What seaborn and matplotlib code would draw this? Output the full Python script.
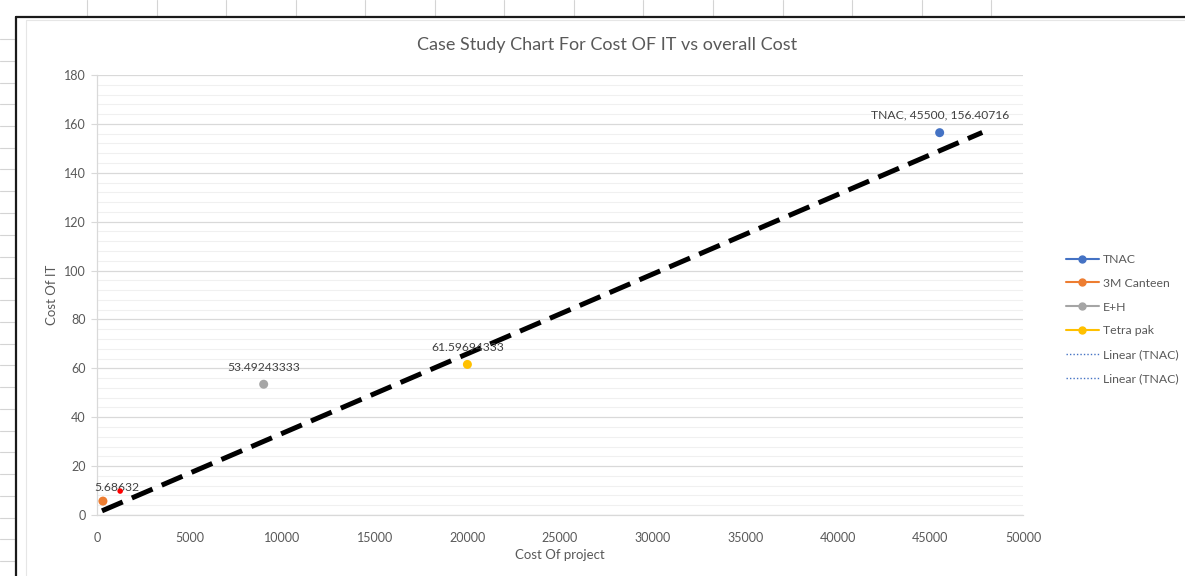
import matplotlib
matplotlib.use("Agg")
import matplotlib.pyplot as plt
import seaborn as sns
import pandas as pd
import numpy as np
from matplotlib.lines import Line2D
from matplotlib.ticker import MultipleLocator

# ---- data ----
series = ["TNAC", "3M Canteen", "E+H", "Tetra pak"]
cost_project = [45500, 320, 9000, 20000]
cost_it = [156.40716, 5.68632, 53.49243333, 61.59694333]
point_labels = ["TNAC, 45500, 156.40716", "5.68632", "53.49243333", "61.59694333"]
extra_x = [1250]
extra_y = [9.8]
trend_x = [270, 47800]
trend_y = [1.7, 156.5]
x_ticks = list(range(0, 50001, 5000))
y_ticks = list(range(0, 181, 20))
legend_labels = ["TNAC", "3M Canteen", "E+H", "Tetra pak", "Linear (TNAC)", "Linear (TNAC)"]

colors = ["#4472C4", "#ED7D31", "#A5A5A5", "#FFC000"]

sns.set_theme(style="white")
plt.rcParams["font.family"] = ["Lato", "DejaVu Sans"]

W, H = 1185, 576
fig = plt.figure(figsize=(W / 100, H / 100), dpi=100)
fig.patch.set_facecolor("white")

# spreadsheet background grid (outside chart)
for i in range(14):
    x = 87 + i * 69.55
    fig.add_artist(Line2D([x / W, x / W], [1, 1 - 17 / H], color="#D4D4D4", lw=0.8))
for j in range(25):
    y = 39 + j * 21.75
    if y > H:
        break
    fig.add_artist(Line2D([0, 16 / W], [1 - y / H, 1 - y / H], color="#D4D4D4", lw=0.8))
# chart border
fig.add_artist(Line2D([16 / W, 16 / W], [0, 1 - 17 / H], color="#1a1a1a", lw=1.6))
fig.add_artist(Line2D([16 / W, 1], [1 - 17 / H, 1 - 17 / H], color="#1a1a1a", lw=1.6))
fig.add_artist(Line2D([26 / W, 26 / W], [0, 1 - 20 / H], color="#E6E6E6", lw=0.8))
fig.add_artist(Line2D([26 / W, 1], [1 - 20 / H, 1 - 20 / H], color="#E6E6E6", lw=0.8))

ax = fig.add_axes([97 / W, 1 - 515 / H, (1023 - 97) / W, (515 - 75) / H])
ax.set_facecolor("white")

df = pd.DataFrame({"x": cost_project, "y": cost_it, "s": series})
trend = pd.DataFrame({"x": trend_x, "y": trend_y})

sns.lineplot(data=trend, x="x", y="y", ax=ax, color="black", lw=3.6,
             dashes=False, legend=False, zorder=3)
ax.lines[-1].set_dashes((4.5, 2.0))
ax.lines[-1].set_dash_capstyle("butt")

sns.scatterplot(data=df, x="x", y="y", hue="s", palette=colors, s=42,
                edgecolor="none", ax=ax, legend=False, zorder=4)
sns.scatterplot(x=extra_x, y=extra_y, color="#FF0000", s=16, edgecolor="none",
                ax=ax, legend=False, zorder=4)

ax.set_xlim(0, 50000)
ax.set_ylim(0, 180)
ax.set_xticks(x_ticks)
ax.set_yticks(y_ticks)
ax.yaxis.set_minor_locator(MultipleLocator(4))
ax.grid(True, which="major", axis="y", color="#D9D9D9", lw=0.9)
ax.grid(True, which="minor", axis="y", color="#F0F0F0", lw=0.8)
ax.grid(False, axis="x")
ax.set_axisbelow(True)
for s in ["top", "right"]:
    ax.spines[s].set_visible(False)
for s in ["left", "bottom"]:
    ax.spines[s].set_color("#D9D9D9")
    ax.spines[s].set_linewidth(0.9)

ax.tick_params(axis="y", which="major", left=True, length=4, width=0.8, color="#D9D9D9",
               pad=4, labelsize=9, labelcolor="#595959")
ax.tick_params(axis="y", which="minor", left=False)
ax.tick_params(axis="x", bottom=False, pad=6, labelsize=9, labelcolor="#595959")

ax.set_xlabel("Cost Of project", fontsize=9.5, color="#595959", labelpad=4)
ax.set_ylabel("Cost Of IT", fontsize=9.5, color="#595959", labelpad=4)

# data labels
offsets = [(0, 9), (10, 6), (0, 8), (0, 8)]
for xv, yv, lab, off in zip(cost_project, cost_it, point_labels, offsets):
    ax.annotate(lab, (xv, yv), xytext=off, textcoords="offset points",
                ha="center", va="bottom", fontsize=8.7, color="#404040")

fig.text(607 / W, 1 - 45 / H, "Case Study Chart For Cost OF IT vs overall Cost",
         ha="center", va="center", fontsize=13, color="#595959")

handles = [Line2D([0], [0], color=c, lw=1.5, marker="o", markersize=5) for c in colors]
handles += [Line2D([0], [0], color="#4472C4", lw=1.0, linestyle=(0, (1, 1.5))) for _ in range(2)]
leg = fig.legend(handles, legend_labels, loc="upper left",
                 bbox_to_anchor=(1061 / W, 1 - 249 / H), frameon=False,
                 fontsize=8.8, handlelength=2.7, labelspacing=1.05,
                 handletextpad=0.3, borderaxespad=0)
for t in leg.get_texts():
    t.set_color("#595959")

fig.savefig("out.png", dpi=100, facecolor="white")
